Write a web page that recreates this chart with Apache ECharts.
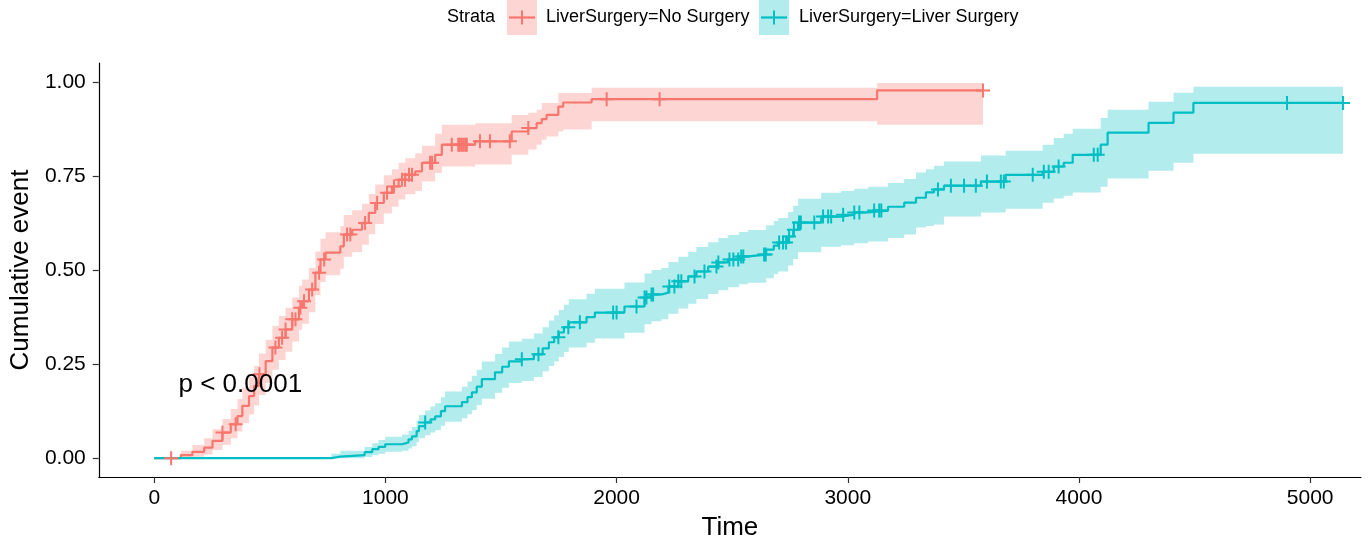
<!DOCTYPE html>
<html>
<head>
<meta charset="utf-8">
<script src="https://cdn.jsdelivr.net/npm/echarts@6/dist/echarts.min.js"></script>
<style>
  html, body { margin: 0; padding: 0; background: #ffffff; }
  #chart { width: 1368px; height: 546px; }
</style>
</head>
<body>
<div id="chart"></div>
<script>
// Cumulative event curves (1 - KM) by liver surgery status, with 95% bands and censor marks.

const xTicks = [0, 1000, 2000, 3000, 4000, 5000];
const yTicks = [0, 0.25, 0.5, 0.75, 1];

const strataNames = ['LiverSurgery=No Surgery', 'LiverSurgery=Liver Surgery'];

// No Surgery
const noSurgTime  = [0, 115, 165, 216, 252, 295, 331, 360, 381, 410, 432, 453, 482, 511, 539, 568, 597, 626, 640, 669, 697, 719, 741, 805, 820, 856, 899, 928, 956, 993, 1028, 1057, 1086, 1129, 1158, 1215, 1244, 1388, 1546, 1618, 1654, 1676, 1697, 1748, 1769, 1892, 3127];
const noSurgEvent = [0, 0.008, 0.017, 0.028, 0.046, 0.068, 0.09, 0.112, 0.139, 0.165, 0.192, 0.223, 0.258, 0.294, 0.32, 0.342, 0.369, 0.4, 0.417, 0.448, 0.493, 0.528, 0.546, 0.563, 0.594, 0.607, 0.625, 0.652, 0.678, 0.705, 0.722, 0.74, 0.753, 0.762, 0.785, 0.806, 0.833, 0.842, 0.868, 0.877, 0.89, 0.901, 0.912, 0.934, 0.945, 0.954, 0.977];
const noSurgLower = [0, 0, 0.004, 0.01, 0.022, 0.036, 0.053, 0.071, 0.093, 0.116, 0.14, 0.168, 0.2, 0.235, 0.261, 0.283, 0.31, 0.341, 0.357, 0.388, 0.433, 0.468, 0.486, 0.503, 0.535, 0.548, 0.567, 0.595, 0.622, 0.65, 0.668, 0.687, 0.701, 0.71, 0.735, 0.758, 0.775, 0.78, 0.806, 0.82, 0.833, 0.846, 0.855, 0.868, 0.873, 0.895, 0.886];
const noSurgUpper = [0, 0.02, 0.035, 0.053, 0.077, 0.104, 0.131, 0.157, 0.187, 0.216, 0.245, 0.278, 0.315, 0.352, 0.378, 0.4, 0.427, 0.458, 0.475, 0.505, 0.549, 0.583, 0.6, 0.617, 0.646, 0.659, 0.676, 0.702, 0.727, 0.752, 0.768, 0.785, 0.797, 0.81, 0.83, 0.862, 0.886, 0.89, 0.912, 0.918, 0.926, 0.944, 0.944, 0.97, 0.97, 0.984, 0.997];
const noSurgEnd = 3585;
const noSurgCensor = [73, 295, 352, 455, 524, 553, 568, 597, 611, 632, 648, 683, 713, 735, 834, 848, 912, 964, 1007, 1037, 1072, 1085, 1102, 1115, 1193, 1202, 1287, 1315, 1322, 1330, 1337, 1345, 1352, 1409, 1452, 1538, 1618, 1957, 2186, 3585];

// Liver Surgery
const liverTime  = [0, 766, 805, 910, 943, 970, 999, 1072, 1100, 1115, 1135, 1145, 1171, 1195, 1215, 1240, 1258, 1331, 1355, 1374, 1395, 1417, 1474, 1505, 1534, 1590, 1642, 1680, 1707, 1730, 1750, 1772, 1793, 1870, 1906, 2034, 2121, 2151, 2194, 2224, 2267, 2310, 2345, 2396, 2440, 2483, 2530, 2569, 2647, 2680, 2699, 2742, 2764, 2785, 2885, 2971, 3028, 3088, 3174, 3244, 3295, 3338, 3373, 3416, 3576, 3683, 3843, 3891, 3934, 3973, 4094, 4124, 4301, 4409, 4495];
const liverEvent = [0, 0.004, 0.008, 0.016, 0.024, 0.03, 0.037, 0.042, 0.05, 0.058, 0.072, 0.085, 0.095, 0.103, 0.111, 0.125, 0.138, 0.149, 0.162, 0.175, 0.19, 0.21, 0.228, 0.243, 0.257, 0.263, 0.276, 0.292, 0.308, 0.321, 0.334, 0.348, 0.361, 0.375, 0.387, 0.403, 0.427, 0.435, 0.44, 0.456, 0.47, 0.483, 0.496, 0.509, 0.52, 0.528, 0.536, 0.541, 0.554, 0.565, 0.573, 0.589, 0.607, 0.626, 0.642, 0.647, 0.653, 0.658, 0.668, 0.679, 0.692, 0.706, 0.714, 0.724, 0.735, 0.753, 0.761, 0.775, 0.785, 0.806, 0.833, 0.865, 0.891, 0.918, 0.944];
const liverLower = [0, 0, 0, 0.003, 0.008, 0.012, 0.017, 0.02, 0.026, 0.032, 0.043, 0.053, 0.061, 0.068, 0.074, 0.086, 0.097, 0.106, 0.117, 0.128, 0.141, 0.158, 0.174, 0.187, 0.2, 0.205, 0.216, 0.231, 0.245, 0.257, 0.269, 0.282, 0.294, 0.307, 0.318, 0.333, 0.356, 0.364, 0.369, 0.384, 0.398, 0.41, 0.423, 0.436, 0.446, 0.454, 0.462, 0.466, 0.478, 0.489, 0.496, 0.512, 0.529, 0.547, 0.562, 0.566, 0.571, 0.576, 0.585, 0.594, 0.613, 0.617, 0.621, 0.642, 0.653, 0.663, 0.679, 0.69, 0.697, 0.706, 0.721, 0.743, 0.764, 0.785, 0.809];
const liverUpper = [0, 0.012, 0.02, 0.03, 0.04, 0.048, 0.057, 0.063, 0.073, 0.083, 0.1, 0.115, 0.127, 0.137, 0.146, 0.162, 0.177, 0.19, 0.204, 0.219, 0.235, 0.257, 0.277, 0.294, 0.31, 0.317, 0.331, 0.348, 0.366, 0.38, 0.394, 0.408, 0.422, 0.437, 0.45, 0.467, 0.491, 0.5, 0.505, 0.521, 0.535, 0.548, 0.561, 0.574, 0.585, 0.593, 0.601, 0.606, 0.619, 0.63, 0.638, 0.654, 0.671, 0.689, 0.705, 0.71, 0.716, 0.721, 0.731, 0.742, 0.759, 0.768, 0.777, 0.788, 0.804, 0.817, 0.833, 0.851, 0.862, 0.875, 0.904, 0.926, 0.947, 0.971, 0.987];
const liverEnd = 5142;
const liverCensor = [1172, 1590, 1662, 1748, 1791, 1841, 1985, 2000, 2086, 2121, 2129, 2151, 2158, 2228, 2250, 2267, 2280, 2337, 2380, 2432, 2440, 2488, 2505, 2526, 2539, 2548, 2638, 2645, 2703, 2720, 2733, 2746, 2767, 2789, 2797, 2855, 2893, 2915, 2928, 2980, 3028, 3050, 3114, 3136, 3145, 3390, 3446, 3503, 3554, 3602, 3662, 3675, 3800, 3848, 3869, 3912, 4064, 4081, 4900, 5142];

const pvalText = 'p < 0.0001';
const pvalPos = [105, 0.194];

const RED = '#F8766D', RED_FILL = '#FDD6D3';
const TEAL = '#00BFC4', TEAL_FILL = '#B3ECED';
const FONT = '"Liberation Sans", Arial, sans-serif';

const CROSS = 'path://M6,0H8V6H14V8H8V14H6V8H0V6H6Z';

function lineData(times, vals, end) {
  const d = times.map((t, i) => [t, vals[i]]);
  d.push([end, vals[vals.length - 1]]);
  return d;
}
function valueAt(times, vals, t) {
  let v = vals[0];
  for (let i = 0; i < times.length; i++) { if (times[i] <= t) v = vals[i]; else break; }
  return v;
}
function censorData(cens, times, vals) {
  return cens.map(t => [t, valueAt(times, vals, t)]);
}
function bandSeries(times, lo, hi, end, fill) {
  return {
    type: 'custom',
    silent: true,
    z: 1,
    data: [[times[0], lo[0]]],
    encode: { x: 0, y: 1 },
    renderItem: function (params, api) {
      const n = times.length;
      const pts = [];
      for (let i = 0; i < n; i++) {
        const tNext = i < n - 1 ? times[i + 1] : end;
        pts.push(api.coord([times[i], hi[i]]));
        pts.push(api.coord([tNext, hi[i]]));
      }
      for (let i = n - 1; i >= 0; i--) {
        const tNext = i < n - 1 ? times[i + 1] : end;
        pts.push(api.coord([tNext, lo[i]]));
        pts.push(api.coord([times[i], lo[i]]));
      }
      return { type: 'polygon', shape: { points: pts }, style: { fill: fill } };
    }
  };
}

const chart = echarts.init(document.getElementById('chart'), null, { renderer: 'canvas' });

const legendY = 17.5;
function legendKey(x0, color, fill) {
  return [
    { type: 'rect', shape: { x: x0, y: 0, width: 30, height: 35 }, style: { fill: fill } },
    { type: 'line', shape: { x1: x0 + 2, y1: legendY, x2: x0 + 28, y2: legendY }, style: { stroke: color, lineWidth: 2.2 } },
    { type: 'line', shape: { x1: x0 + 15, y1: legendY - 7, x2: x0 + 15, y2: legendY + 7 }, style: { stroke: color, lineWidth: 2 } }
  ];
}

const option = {
  backgroundColor: '#ffffff',
  animation: false,
  grid: { left: 96, right: 7, top: 63, bottom: 68 },
  xAxis: {
    type: 'value',
    min: -240, max: 5220,
    name: 'Time',
    nameLocation: 'middle',
    nameGap: 38,
    nameTextStyle: { fontFamily: FONT, fontSize: 26, color: '#000' },
    axisLine: { show: true, onZero: false, lineStyle: { color: '#000', width: 1.2 } },
    axisTick: { show: true, length: 6, customValues: xTicks, lineStyle: { color: '#333', width: 1.2 } },
    axisLabel: { customValues: xTicks, fontFamily: FONT, fontSize: 21, color: '#000', margin: 11,
                 formatter: v => String(v) },
    splitLine: { show: false }
  },
  yAxis: {
    type: 'value',
    min: -0.05, max: 1.05,
    name: 'Cumulative event',
    nameLocation: 'middle',
    nameGap: 60,
    nameTextStyle: { fontFamily: FONT, fontSize: 26, color: '#000' },
    axisLine: { show: true, onZero: false, lineStyle: { color: '#000', width: 1.2 } },
    axisTick: { show: true, length: 6, customValues: yTicks, lineStyle: { color: '#333', width: 1.2 } },
    axisLabel: { customValues: yTicks, fontFamily: FONT, fontSize: 21, color: '#000', margin: 13,
                 formatter: v => Number(v).toFixed(2) },
    splitLine: { show: false }
  },
  graphic: [
    { type: 'text', x: 447, y: legendY, style: { text: 'Strata', font: '18px ' + FONT, fill: '#000', verticalAlign: 'middle' } },
    ...legendKey(507, RED, RED_FILL),
    { type: 'text', x: 546, y: legendY, style: { text: strataNames[0], font: '18px ' + FONT, fill: '#000', verticalAlign: 'middle' } },
    ...legendKey(759, TEAL, TEAL_FILL),
    { type: 'text', x: 799, y: legendY, style: { text: strataNames[1], font: '18px ' + FONT, fill: '#000', verticalAlign: 'middle' } }
  ],
  series: [
    bandSeries(noSurgTime, noSurgLower, noSurgUpper, noSurgEnd, RED_FILL),
    bandSeries(liverTime, liverLower, liverUpper, liverEnd, TEAL_FILL),
    {
      name: strataNames[0], type: 'line', step: 'end', z: 3,
      data: lineData(noSurgTime, noSurgEvent, noSurgEnd),
      showSymbol: false, lineStyle: { color: RED, width: 2.2 }, itemStyle: { color: RED }
    },
    {
      name: strataNames[1], type: 'line', step: 'end', z: 4,
      data: lineData(liverTime, liverEvent, liverEnd),
      showSymbol: false, lineStyle: { color: TEAL, width: 2.2 }, itemStyle: { color: TEAL }
    },
    {
      type: 'scatter', z: 5, silent: true,
      data: censorData(noSurgCensor, noSurgTime, noSurgEvent),
      symbol: CROSS, symbolSize: 14, itemStyle: { color: RED, opacity: 1 }
    },
    {
      type: 'scatter', z: 6, silent: true,
      data: censorData(liverCensor, liverTime, liverEvent),
      symbol: CROSS, symbolSize: 14, itemStyle: { color: TEAL, opacity: 1 }
    },
    {
      type: 'scatter', z: 7, silent: true,
      data: [pvalPos], symbolSize: 0,
      label: { show: true, position: 'right', distance: 0, formatter: pvalText,
               fontFamily: FONT, fontSize: 26, color: '#000', opacity: 1 }
    }
  ]
};

chart.setOption(option);
</script>
</body>
</html>
